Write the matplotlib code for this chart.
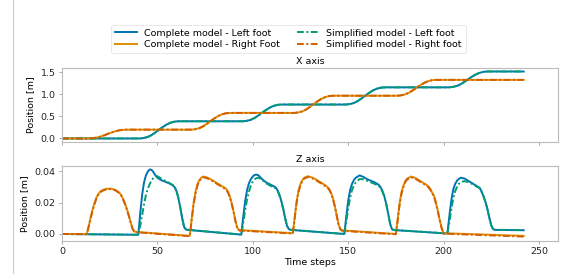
import matplotlib
matplotlib.use("Agg")
import matplotlib.pyplot as plt
from matplotlib.lines import Line2D

# ---- data ----
# X position of the feet
t_left_x = [0, 41, 43, 45, 47, 49, 51, 53, 55, 57, 59, 61,
            95, 97, 99, 101, 103, 105, 107, 109, 111, 113, 115,
            149, 151, 153, 155, 157, 159, 161, 163, 165, 167, 169,
            203, 205, 207, 209, 211, 213, 215, 217, 219, 221, 223, 242]
x_left_complete = [0.0, 0.0, 0.012, 0.035, 0.078, 0.137, 0.203, 0.265, 0.32, 0.359, 0.382, 0.39,
                   0.39, 0.401, 0.424, 0.466, 0.523, 0.588, 0.648, 0.702, 0.74, 0.762, 0.77,
                   0.77, 0.782, 0.805, 0.848, 0.907, 0.973, 1.035, 1.09, 1.129, 1.152, 1.16,
                   1.16, 1.171, 1.192, 1.232, 1.286, 1.347, 1.405, 1.455, 1.491, 1.513, 1.52, 1.52]
x_left_simplified = [0.0, 0.0, 0.011, 0.034, 0.077, 0.136, 0.202, 0.265, 0.321, 0.36, 0.383, 0.391,
                     0.391, 0.402, 0.425, 0.467, 0.524, 0.589, 0.649, 0.703, 0.741, 0.763, 0.771,
                     0.771, 0.783, 0.806, 0.849, 0.908, 0.974, 1.036, 1.091, 1.13, 1.153, 1.161,
                     1.161, 1.172, 1.193, 1.233, 1.287, 1.348, 1.406, 1.456, 1.492, 1.514, 1.521, 1.521]

t_right_x = [0, 14, 16, 18, 20, 22, 24, 26, 28, 30, 32, 34,
             68, 70, 72, 74, 76, 78, 80, 82, 84, 86, 88,
             122, 124, 126, 128, 130, 132, 134, 136, 138, 140, 142,
             176, 178, 180, 182, 184, 186, 188, 190, 192, 194, 196, 242]
x_right_complete = [0.0, 0.0, 0.006, 0.018, 0.04, 0.07, 0.104, 0.136, 0.164, 0.184, 0.196, 0.2,
                    0.2, 0.211, 0.234, 0.276, 0.333, 0.398, 0.458, 0.512, 0.55, 0.572, 0.58,
                    0.58, 0.592, 0.615, 0.658, 0.717, 0.783, 0.845, 0.9, 0.939, 0.962, 0.97,
                    0.97, 0.981, 1.002, 1.042, 1.096, 1.157, 1.215, 1.265, 1.301, 1.323, 1.33, 1.33]
x_right_simplified = [0.0, 0.0, 0.006, 0.018, 0.04, 0.07, 0.104, 0.136, 0.164, 0.184, 0.196, 0.2,
                      0.2, 0.211, 0.234, 0.276, 0.333, 0.398, 0.458, 0.512, 0.55, 0.572, 0.58,
                      0.58, 0.592, 0.615, 0.658, 0.717, 0.783, 0.845, 0.9, 0.939, 0.962, 0.97,
                      0.97, 0.981, 1.002, 1.042, 1.096, 1.157, 1.215, 1.265, 1.301, 1.323, 1.33, 1.33]

# Z position of the feet
t_left_z = [0, 39,
            40, 41, 42, 43, 44, 45, 46, 47, 48, 49, 50, 52, 54, 56, 58,
            59, 60, 61, 62, 63, 64, 65, 66,
            94, 95, 96, 97, 98, 99, 100, 101, 102, 103, 105, 107, 109, 111,
            112, 113, 114, 115, 116, 117, 118, 119, 120,
            148, 149, 150, 151, 152, 153, 154, 156, 158, 160, 162, 164, 166,
            167, 168, 169, 170, 171, 172, 173, 174,
            202, 203, 204, 205, 206, 207, 208, 209, 211, 213, 215, 217, 219,
            220, 221, 222, 223, 224, 225, 226, 227,
            242]
z_left_complete = [0.0, -0.0005,
                   -0.0005, 0.013, 0.025, 0.033, 0.0375, 0.040, 0.0413, 0.041, 0.0395, 0.0375, 0.036,
                   0.0345, 0.0335, 0.0325, 0.0312,
                   0.030, 0.0275, 0.023, 0.017, 0.010, 0.0045, 0.0028, 0.0026,
                   -0.0004, 0.011, 0.021, 0.028, 0.0325, 0.035, 0.0368, 0.0378, 0.038, 0.0375,
                   0.035, 0.033, 0.0318, 0.0305,
                   0.0298, 0.028, 0.025, 0.021, 0.016, 0.010, 0.005, 0.003, 0.0026,
                   0.0, 0.011, 0.021, 0.028, 0.032, 0.0345, 0.036, 0.0375, 0.0365, 0.035, 0.034,
                   0.033, 0.0315,
                   0.030, 0.0275, 0.024, 0.019, 0.013, 0.0065, 0.003, 0.0025,
                   0.0003, 0.011, 0.021, 0.028, 0.0318, 0.034, 0.0352, 0.036, 0.0355, 0.034, 0.0325,
                   0.031, 0.0295,
                   0.027, 0.024, 0.0205, 0.016, 0.0105, 0.0055, 0.003, 0.0026,
                   0.0024]
z_left_simplified = [0.0, -0.0005,
                     -0.0005, 0.005, 0.012, 0.019, 0.025, 0.029, 0.032, 0.0345, 0.036, 0.0368, 0.037,
                     0.0355, 0.034, 0.0328, 0.0314,
                     0.0302, 0.0277, 0.0232, 0.0172, 0.0102, 0.0047, 0.003, 0.0027,
                     -0.0004, 0.007, 0.015, 0.022, 0.027, 0.031, 0.0335, 0.035, 0.0358, 0.036,
                     0.0345, 0.0325, 0.031, 0.0298,
                     0.0292, 0.0275, 0.0245, 0.0205, 0.0158, 0.0099, 0.005, 0.003, 0.0027,
                     0.0, 0.008, 0.016, 0.023, 0.028, 0.031, 0.033, 0.0352, 0.035, 0.034, 0.033,
                     0.032, 0.0308,
                     0.0294, 0.027, 0.0236, 0.0188, 0.0128, 0.0064, 0.003, 0.0026,
                     0.0003, 0.007, 0.015, 0.022, 0.027, 0.030, 0.032, 0.0333, 0.0338, 0.0332, 0.032,
                     0.0306, 0.0292,
                     0.0268, 0.0238, 0.0203, 0.0158, 0.0104, 0.0055, 0.003, 0.0027,
                     0.0025]

t_right_z = [0,
             13, 14, 15, 16, 17, 18, 19, 20, 22, 24, 26, 28, 30,
             31, 32, 33, 34, 35, 36, 37, 38, 39,
             67, 68, 69, 70, 71, 72, 73, 74, 76, 78, 80, 82, 84, 86,
             87, 88, 89, 90, 91, 92, 93,
             121, 122, 123, 124, 125, 126, 127, 129, 131, 133, 135, 137, 139,
             140, 141, 142, 143, 144, 145, 146, 147,
             175, 176, 177, 178, 179, 180, 181, 183, 185, 187, 189, 191,
             192, 193, 194, 195, 196, 197, 198, 199, 200,
             242]
z_right_complete = [0.0,
                    0.0, 0.005, 0.0105, 0.0155, 0.0195, 0.0232, 0.0255, 0.0272,
                    0.0285, 0.029, 0.029, 0.0282, 0.0265,
                    0.025, 0.0225, 0.0195, 0.016, 0.012, 0.0075, 0.0035, 0.0015, 0.0013,
                    -0.0012, 0.010, 0.020, 0.027, 0.0318, 0.0345, 0.036, 0.0368,
                    0.0362, 0.035, 0.0335, 0.032, 0.0305, 0.029,
                    0.027, 0.024, 0.0195, 0.014, 0.008, 0.0035, 0.0025,
                    0.0005, 0.011, 0.021, 0.028, 0.032, 0.0345, 0.036,
                    0.037, 0.0362, 0.035, 0.0335, 0.032, 0.0302,
                    0.029, 0.0265, 0.023, 0.018, 0.012, 0.006, 0.003, 0.0023,
                    0.0, 0.010, 0.020, 0.027, 0.031, 0.034, 0.0355,
                    0.0368, 0.036, 0.0345, 0.033, 0.0315,
                    0.0305, 0.029, 0.0265, 0.0245, 0.020, 0.015, 0.009, 0.004, 0.0005,
                    -0.0012]
z_right_simplified = [0.0,
                      0.0, 0.0045, 0.0098, 0.0148, 0.0189, 0.0226, 0.025, 0.0267,
                      0.0281, 0.0287, 0.0287, 0.0279, 0.0262,
                      0.0247, 0.0222, 0.0192, 0.0157, 0.0117, 0.0072, 0.0032, 0.0012, 0.0011,
                      -0.0014, 0.009, 0.019, 0.026, 0.031, 0.0339, 0.0355, 0.0363,
                      0.0357, 0.0345, 0.033, 0.0315, 0.030, 0.0285,
                      0.0265, 0.0235, 0.0191, 0.0137, 0.0077, 0.0032, 0.0022,
                      0.0003, 0.010, 0.020, 0.027, 0.0313, 0.0339, 0.0355,
                      0.0365, 0.0357, 0.0345, 0.033, 0.0315, 0.0297,
                      0.0285, 0.0261, 0.0226, 0.0176, 0.0117, 0.0057, 0.0027, 0.002,
                      -0.0002, 0.009, 0.019, 0.026, 0.0303, 0.0334, 0.035,
                      0.0363, 0.0355, 0.034, 0.0325, 0.031,
                      0.030, 0.0285, 0.0261, 0.0241, 0.0196, 0.0146, 0.0087, 0.0037, 0.0002,
                      -0.0017]

labels = ["Complete model - Left foot", "Complete model - Right Foot",
          "Simplified model - Left foot", "Simplified model - Right foot"]
colors = ["#0173b2", "#de8f05", "#029e73", "#d55e00"]

fs = 6.8
plt.rcParams["font.size"] = fs
plt.rcParams["font.family"] = "DejaVu Sans"

fig = plt.figure(figsize=(5.62, 2.74), dpi=100)
ax_x = fig.add_axes([0.1103, 0.4818, 0.8826, 0.2701])
ax_z = fig.add_axes([0.1103, 0.1204, 0.8826, 0.2737], sharex=ax_x)

lw = 1.4
dashdot = (0, (3.5, 1.3, 1.0, 1.3))
ax_x.plot(t_left_x, x_left_complete, color=colors[0], lw=lw, label=labels[0])
ax_x.plot(t_right_x, x_right_complete, color=colors[1], lw=lw, label=labels[1])
ax_x.plot(t_left_x, x_left_simplified, color=colors[2], lw=lw, ls=dashdot, label=labels[2])
ax_x.plot(t_right_x, x_right_simplified, color=colors[3], lw=lw, ls=dashdot, label=labels[3])

ax_z.plot(t_left_z, z_left_complete, color=colors[0], lw=lw)
ax_z.plot(t_right_z, z_right_complete, color=colors[1], lw=lw)
ax_z.plot(t_left_z, z_left_simplified, color=colors[2], lw=lw, ls=dashdot)
ax_z.plot(t_right_z, z_right_simplified, color=colors[3], lw=lw, ls=dashdot)

ax_x.set_title("X axis", fontsize=fs, pad=3)
ax_z.set_title("Z axis", fontsize=fs, pad=3)
ax_x.set_ylabel("Position [m]")
ax_z.set_ylabel("Position [m]")
ax_z.set_xlabel("Time steps", labelpad=1)

ax_x.set_xlim(0, 260)
ax_x.set_ylim(-0.08, 1.6)
ax_z.set_ylim(-0.0045, 0.0435)
ax_x.set_yticks([0.0, 0.5, 1.0, 1.5])
ax_z.set_yticks([0.0, 0.02, 0.04])
ax_z.set_xticks([0, 50, 100, 150, 200, 250])
ax_x.tick_params(labelbottom=False)

for ax in (ax_x, ax_z):
    for sp in ax.spines.values():
        sp.set_color("#bbbbbb")
        sp.set_linewidth(0.8)
    ax.tick_params(length=2.5, width=0.6, color="#999999", pad=2, labelcolor="#222222")

leg = fig.legend(loc="upper center", bbox_to_anchor=(288.5 / 562, 1 - 20 / 274), ncol=2,
                 frameon=True, fontsize=fs, handlelength=2.3, columnspacing=1.8,
                 borderpad=0.4, labelspacing=0.3)
leg.get_frame().set_edgecolor("#dddddd")
leg.get_frame().set_linewidth(0.6)

# gray page border on the left of the reference
fig.add_artist(Line2D([13 / 562, 13 / 562], [0, 1], color="#cccccc", lw=0.8,
                      transform=fig.transFigure))

fig.savefig("out.png", dpi=100)
